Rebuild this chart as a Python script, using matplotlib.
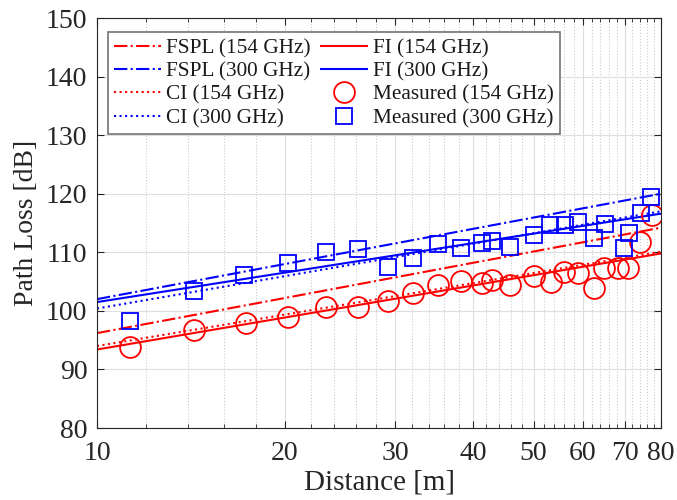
import matplotlib
matplotlib.use("Agg")
import matplotlib.pyplot as plt
import numpy as np
from matplotlib.ticker import FixedLocator, NullFormatter

plt.rcParams['font.family'] = ['Liberation Serif', 'DejaVu Serif']

# ---- data ----
line_d = [10, 80]
fspl_154 = [96.2, 114.2]
fspl_300 = [102.0, 120.0]
ci_154 = [94.0, 110.1]
ci_300 = [100.4, 117.0]
fi_154 = [93.4, 109.8]
fi_300 = [101.5, 116.6]

d_154 = [11.3, 14.3, 17.3, 20.2, 23.3, 26.2, 29.2, 32.1, 35.2, 38.3, 41.3, 42.9,
         45.8, 50.1, 53.3, 56.0, 59.0, 62.5, 64.8, 68.2, 70.9, 74.1, 77.3]
pl_154 = [93.9, 96.7, 98.0, 99.0, 100.7, 100.7, 101.6, 103.1, 104.5, 105.1, 104.8, 105.3,
          104.4, 106.0, 105.0, 106.7, 106.4, 103.9, 107.3, 107.3, 107.4, 111.8, 116.4]

d_300 = [11.3, 14.3, 17.2, 20.2, 23.3, 26.2, 29.2, 32.1, 35.2, 38.3, 41.3, 42.9,
         45.8, 50.1, 53.2, 56.1, 58.9, 62.5, 65.0, 69.7, 71.1, 74.2, 77.1]
pl_300 = [98.3, 103.4, 106.1, 108.1, 110.1, 110.6, 107.5, 109.0, 111.4, 110.7, 111.6, 112.0,
          110.95, 112.95, 114.7, 114.7, 115.2, 112.4, 114.8, 110.8, 113.3, 116.7, 119.4]

x_ticks = [10, 20, 30, 40, 50, 60, 70, 80]
x_minor = [v for v in range(12, 80, 2) if v % 10 != 0]
y_ticks = [80, 90, 100, 110, 120, 130, 140, 150]

fig = plt.figure(figsize=(6.77, 5.0), dpi=100)
ax = fig.add_axes([0.1433, 0.144, 0.8331, 0.82])

lw = 1.5
ax.plot(line_d, fspl_154, color='red', ls='-.', lw=lw, label='FSPL (154 GHz)')
ax.plot(line_d, fspl_300, color='blue', ls='-.', lw=lw, label='FSPL (300 GHz)')
ax.plot(line_d, ci_154, color='red', ls=':', lw=lw, label='CI (154 GHz)')
ax.plot(line_d, ci_300, color='blue', ls=':', lw=lw, label='CI (300 GHz)')
ax.plot(line_d, fi_154, color='red', ls='-', lw=lw, label='FI (154 GHz)')
ax.plot(line_d, fi_300, color='blue', ls='-', lw=lw, label='FI (300 GHz)')
ax.plot(d_154, pl_154, ls='none', marker='o', ms=15, mfc='none', mec='red', mew=1.3,
        label='Measured (154 GHz)')
ax.plot(d_300, pl_300, ls='none', marker='s', ms=11.5, mfc='none', mec='blue', mew=1.3,
        label='Measured (300 GHz)')

ax.set_xscale('log')
ax.set_xlim(10, 80)
ax.set_ylim(80, 150)
ax.xaxis.set_major_locator(FixedLocator(x_ticks))
ax.set_xticklabels([str(v) for v in x_ticks])
ax.xaxis.set_minor_locator(FixedLocator(x_minor))
ax.xaxis.set_minor_formatter(NullFormatter())
ax.set_yticks(y_ticks)

axc = '0.15'
for s in ax.spines.values():
    s.set_color(axc)
    s.set_linewidth(0.8)
ax.tick_params(which='both', direction='in', top=True, right=True, colors=axc,
               labelsize=20, labelcolor=axc)
ax.tick_params(which='major', length=5)
ax.tick_params(which='minor', length=3)
ax.tick_params(axis='x', which='major', pad=9)
ax.tick_params(axis='y', which='major', pad=7)

ax.grid(which='major', color='0.87', ls='-', lw=0.8)
ax.grid(which='minor', axis='x', color='0.8', ls=':', lw=0.8)
ax.set_axisbelow(True)

ax.set_xlabel('Distance [m]', fontsize=21, color=axc, labelpad=3)
ax.set_ylabel('Path Loss [dB]', fontsize=20, color=axc, labelpad=5)

leg = ax.legend(ncol=2, loc='upper left', bbox_to_anchor=(0.0195, 0.966),
                borderaxespad=0, fontsize=15.3, handlelength=2.2, handletextpad=0.25,
                columnspacing=0.45, labelspacing=0.16, borderpad=0.3, fancybox=False,
                framealpha=1, edgecolor='0.45')
leg.get_frame().set_linewidth(1.2)
for t in leg.get_texts():
    t.set_color('0.1')

fig.savefig('out.png', dpi=100)
